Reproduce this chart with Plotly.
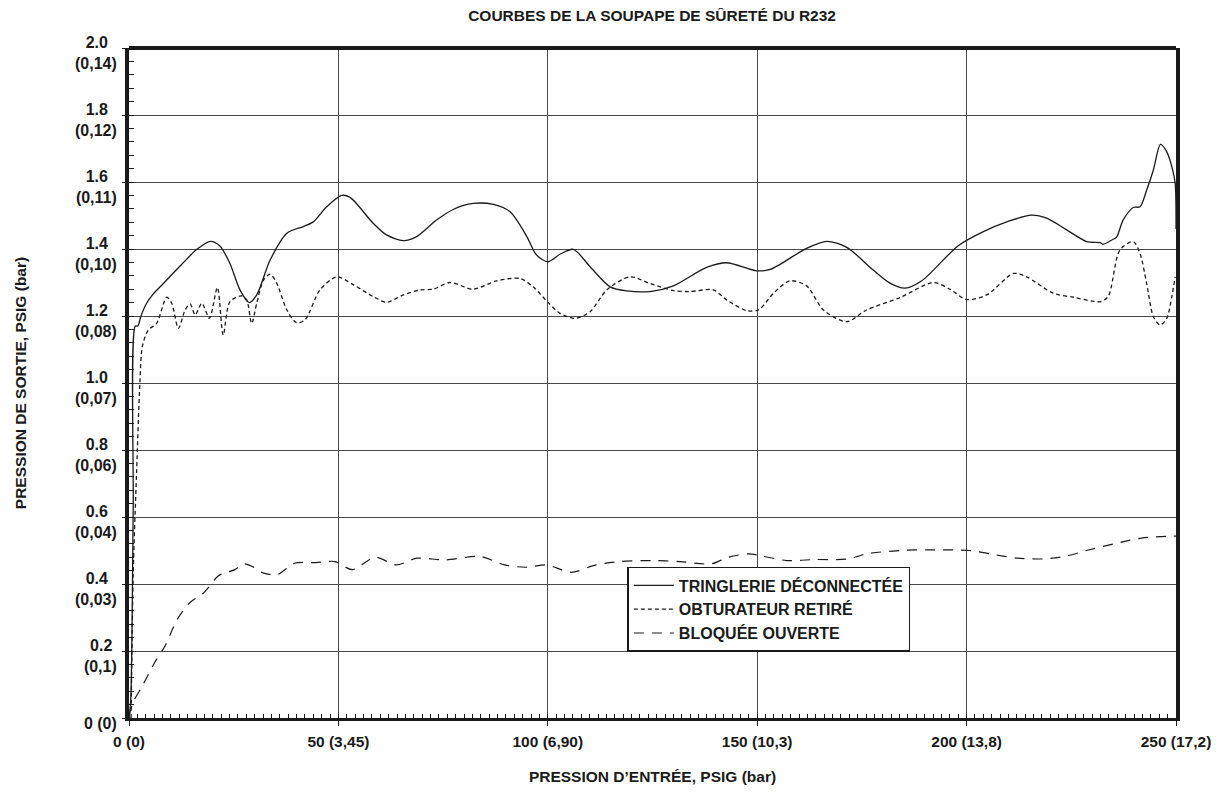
import plotly.graph_objects as go

# ---------------- data ----------------
solid_x = [0, 0.4, 1.0, 1.5, 2.1, 2.8, 4.2, 5.8, 8.2, 12.2, 16.2, 19.5, 21.7, 24.1, 26.5, 28.7,
           30.5, 33.7, 37.7, 41.6, 44.0, 47.2, 50.8, 52.8, 58.3, 61.5, 65.5, 68.7, 73.5, 77.4,
           82.2, 87.0, 91.0, 95.0, 97.3, 100.1, 103.0, 106.1, 110.1, 114.9, 118.8, 124.4, 130.0,
           137.9, 142.7, 149.9, 153.1, 161.8, 166.6, 171.4, 177.7, 181.7, 185.3, 189.3, 198.0,
           204.0, 209.6, 215.5, 219.1, 223.9, 228.7, 231.9, 232.6, 235.0, 235.8, 237.4, 239.8,
           241.4, 243.0, 244.6, 246.3, 247.8, 249.0, 249.8, 250.0]
solid_y = [0, 0.05, 0.62, 1.17, 1.17, 1.198, 1.238, 1.266, 1.297, 1.349, 1.399, 1.423, 1.409, 1.357,
           1.278, 1.240, 1.263, 1.367, 1.447, 1.467, 1.481, 1.526, 1.560, 1.554, 1.477, 1.442, 1.425,
           1.437, 1.487, 1.518, 1.536, 1.533, 1.511, 1.437, 1.382, 1.362, 1.385, 1.399, 1.347, 1.287,
           1.275, 1.273, 1.290, 1.345, 1.359, 1.335, 1.339, 1.402, 1.423, 1.405, 1.337, 1.298, 1.283,
           1.305, 1.410, 1.452, 1.481, 1.501, 1.492, 1.457, 1.422, 1.419, 1.414, 1.429, 1.435, 1.487,
           1.524, 1.526, 1.576, 1.636, 1.712, 1.690, 1.646, 1.596, 1.46]

dotted_x = [0.5, 1.0, 1.8, 2.6, 3.2, 4.6, 6.6, 9.0, 10.2, 11.8, 13.4, 14.6, 15.8, 17.4, 19.2, 21.1,
            22.5, 24.1, 26.9, 28.1, 29.3, 30.5, 32.1, 33.7, 35.3, 37.7, 40.0, 42.0, 45.6, 49.6, 53.6,
            58.3, 61.5, 65.5, 69.5, 72.7, 76.6, 82.2, 87.8, 93.4, 96.5, 100.1, 102.9, 106.5, 110.1,
            114.1, 119.6, 124.4, 130.0, 133.9, 139.5, 142.7, 147.5, 150.3, 153.9, 157.8, 161.8, 165.8,
            171.4, 176.1, 184.1, 192.1, 196.0, 200.0, 204.8, 211.2, 214.3, 220.7, 225.5, 231.9, 233.8,
            236.6, 239.8, 241.4, 243.0, 244.6, 246.2, 247.8, 249.0, 249.8]
dotted_y = [0, 0.43, 0.73, 1.0, 1.11, 1.158, 1.178, 1.256, 1.238, 1.163, 1.218, 1.236, 1.203, 1.238,
            1.193, 1.285, 1.143, 1.243, 1.260, 1.248, 1.178, 1.238, 1.307, 1.325, 1.297, 1.218, 1.180,
            1.188, 1.278, 1.317, 1.293, 1.258, 1.241, 1.263, 1.278, 1.280, 1.300, 1.280, 1.305, 1.312,
            1.287, 1.240, 1.208, 1.193, 1.213, 1.278, 1.317, 1.297, 1.276, 1.273, 1.278, 1.248, 1.216,
            1.218, 1.268, 1.305, 1.290, 1.218, 1.183, 1.218, 1.255, 1.300, 1.280, 1.249, 1.263, 1.327,
            1.317, 1.268, 1.256, 1.243, 1.258, 1.397, 1.422, 1.387, 1.297, 1.198, 1.173, 1.193, 1.258,
            1.317]

dashed_x = [0, 1.1, 3.2, 6.1, 8.6, 11.5, 14.5, 17.8, 21.2, 22.4, 25.3, 27.4, 29.5, 32.0, 35.4, 39.5,
            44.6, 49.2, 53.3, 58.8, 63.8, 68.8, 75.5, 83.9, 89.7, 94.7, 99.7, 105.6, 111.5, 117.3,
            124.9, 131.6, 139.0, 143.1, 148.0, 151.3, 157.1, 163.7, 171.9, 176.0, 184.2, 192.4, 200.7,
            205.6, 212.2, 218.8, 223.7, 228.6, 235.2, 241.8, 249.2, 250.0]
dashed_y = [0.007, 0.05, 0.096, 0.165, 0.215, 0.294, 0.344, 0.373, 0.423, 0.431, 0.443, 0.460, 0.452,
            0.433, 0.428, 0.462, 0.464, 0.467, 0.443, 0.480, 0.457, 0.477, 0.472, 0.482, 0.457, 0.450,
            0.457, 0.435, 0.457, 0.467, 0.470, 0.467, 0.460, 0.480, 0.490, 0.483, 0.470, 0.473, 0.475,
            0.490, 0.500, 0.502, 0.500, 0.490, 0.477, 0.475, 0.483, 0.500, 0.520, 0.537, 0.543, 0.543]

series_names = ["TRINGLERIE DÉCONNECTÉE", "OBTURATEUR RETIRÉ", "BLOQUÉE OUVERTE"]

x_tickvals = [0, 50, 100, 150, 200, 250]
x_ticktext = ["0 (0)", "50 (3,45)", "100 (6,90)", "150 (10,3)", "200 (13,8)", "250 (17,2)"]

y_tickvals = [0, 0.2, 0.4, 0.6, 0.8, 1.0, 1.2, 1.4, 1.6, 1.8, 2.0]
y_main = ["0", "0.2", "0.4", "0.6", "0.8", "1.0", "1.2", "1.4", "1.6", "1.8", "2.0"]
y_bar = ["(0)", "(0,1)", "(0,03)", "(0,04)", "(0,06)", "(0,07)", "(0,08)", "(0,10)", "(0,11)",
         "(0,12)", "(0,14)"]

title_text = "COURBES DE LA SOUPAPE DE SÛRETÉ DU R232"
x_title = "PRESSION D’ENTRÉE, PSIG (bar)"
y_title = "PRESSION DE SORTIE, PSIG (bar)"

# ---------------- figure ----------------
NB = "\u00a0"
y_ticktext = []
for m, b in zip(y_main, y_bar):
    if m == "0":
        y_ticktext.append(m + " " + b)
    else:
        pad = NB * (1 if len(b) <= 5 else 2)
        y_ticktext.append(m + pad + "<br>" + b)

INK = "#1a1a1a"
FONT = "Liberation Sans, Arial, sans-serif"

fig = go.Figure()
fig.add_trace(go.Scatter(x=solid_x, y=solid_y, mode="lines", name=series_names[0],
                         line=dict(color=INK, width=1.3, shape="spline", smoothing=0.8)))
fig.add_trace(go.Scatter(x=dotted_x, y=dotted_y, mode="lines", name=series_names[1],
                         line=dict(color=INK, width=1.3, dash="4px,3px", shape="spline", smoothing=0.8)))
fig.add_trace(go.Scatter(x=dashed_x, y=dashed_y, mode="lines", name=series_names[2],
                         line=dict(color=INK, width=1.2, dash="10px,8px", shape="spline", smoothing=0.8)))

fig.update_layout(
    width=1207, height=777,
    margin=dict(l=121, r=39, t=40, b=67, autoexpand=False),
    paper_bgcolor="white", plot_bgcolor="white",
    font=dict(family=FONT, color=INK, size=16, weight="bold"),
    title=dict(text=title_text, x=0.5336, xanchor="center", y=0.9897, yanchor="middle",
               yref="container", automargin=False,
               font=dict(size=15.5, family=FONT, color=INK, weight="bold")),
    showlegend=True,
    legend=dict(x=0.476, y=0.2254, xanchor="left", yanchor="top", bgcolor="white",
                bordercolor=INK, borderwidth=1.5, itemwidth=40,
                font=dict(size=16, family=FONT, color=INK, weight="bold")),
    xaxis=dict(range=[0, 250], tickmode="array", tickvals=x_tickvals, ticktext=x_ticktext,
               automargin=False,
               showgrid=True, gridcolor="#4a4a4a", gridwidth=1, zeroline=False,
               showline=True, linecolor=INK, linewidth=2.5,
               ticks="outside", ticklen=5, tickwidth=1, tickcolor=INK, ticklabelstandoff=3,
               minor=dict(dtick=2, ticks="inside", ticklen=4, tickwidth=1, tickcolor=INK, showgrid=False),
               tickfont=dict(size=15.5, family=FONT, color=INK, weight="bold"),
               title=dict(text=x_title, standoff=30,
                          font=dict(size=15.5, family=FONT, color=INK, weight="bold"))),
    yaxis=dict(range=[0, 2], tickmode="array", tickvals=y_tickvals, ticktext=y_ticktext,
               automargin=False,
               showgrid=True, gridcolor="#4a4a4a", gridwidth=1, zeroline=False,
               showline=True, linecolor=INK, linewidth=4, mirror=True,
               ticks="outside", ticklen=3, tickwidth=1, tickcolor=INK, ticklabelstandoff=2,
               ticklabelshift=5,
               minor=dict(dtick=0.04, ticks="inside", ticklen=5, tickwidth=1, tickcolor=INK, showgrid=False),
               tickfont=dict(size=16, family=FONT, color=INK, weight="bold"),
               title=dict(text=y_title, standoff=46,
                          font=dict(size=15.5, family=FONT, color=INK, weight="bold"))),
    shapes=[dict(type="line", xref="paper", yref="paper", x0=0, x1=1, y0=1, y1=1,
                 line=dict(color=INK, width=4))],
)

fig.write_html("out.html")
